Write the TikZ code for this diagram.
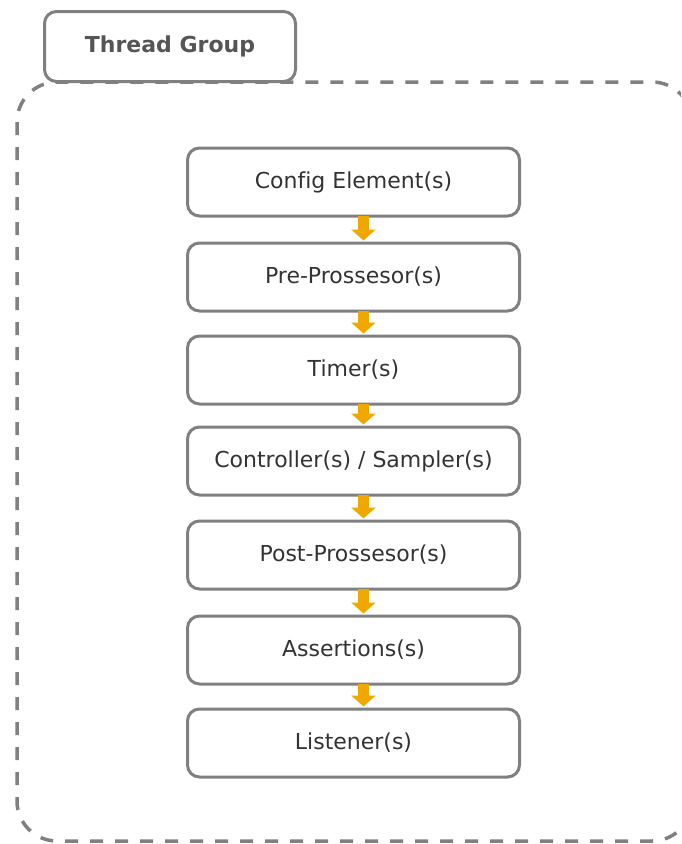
\documentclass[tikz,border=0pt]{standalone}
\usepackage{fontspec}
\setmainfont{DejaVu Sans}[Ligatures={NoCommon}]
\usetikzlibrary{arrows.meta}
\definecolor{edgegray}{HTML}{808080}
\definecolor{txtdark}{HTML}{333333}
\definecolor{txtgray}{HTML}{555555}
\definecolor{flowor}{HTML}{F0A800}
\begin{document}
\begin{tikzpicture}[x=1pt,y=-1pt,
  stagebox/.style={draw=edgegray, line width=3pt, rounded corners=12pt, fill=white,
    minimum width=332pt, minimum height=68pt, inner sep=0pt,
    font=\fontsize{22}{26}\selectfont, text=txtdark},
  groupbox/.style={draw=edgegray, line width=3pt, rounded corners=12pt, fill=white,
    minimum width=251pt, minimum height=70pt, inner sep=0pt,
    font=\fontsize{22}{26}\selectfont\bfseries, text=txtgray},
  flow/.style={draw=flowor, line width=11pt, -{Triangle[width=24pt,length=11pt]}}]
\useasboundingbox (0,0) rectangle (681,844);
\clip (0,0) rectangle (681,844);
\fill[white] (0,0) rectangle (681,844);
\node[groupbox] (tg) at (170,46.5) {Thread Group};
\draw[edgegray, line width=3.5pt, dash pattern=on 13pt off 12pt, rounded corners=40pt]
  (17,82) rectangle (692,841);
\node[stagebox] (cfg) at (353.5,182) {Config Element(s)};
\node[stagebox] (pre) at (353.5,277) {Pre-Prossesor(s)};
\node[stagebox] (tim) at (353.5,370) {Timer(s)};
\node[stagebox] (ctl) at (353.5,461) {Controller(s) / Sampler(s)};
\node[stagebox] (post) at (353.5,555) {Post-Prossesor(s)};
\node[stagebox] (asr) at (353.5,650) {Assertions(s)};
\node[stagebox] (lst) at (353.5,743) {Listener(s)};
\draw[flow] ([xshift=10pt,yshift=2pt]cfg.south) -- ([xshift=10pt,yshift=1pt]pre.north);
\draw[flow] ([xshift=10pt,yshift=2pt]pre.south) -- ([xshift=10pt,yshift=1pt]tim.north);
\draw[flow] ([xshift=10pt,yshift=2pt]tim.south) -- ([xshift=10pt,yshift=1pt]ctl.north);
\draw[flow] ([xshift=10pt,yshift=2pt]ctl.south) -- ([xshift=10pt,yshift=1pt]post.north);
\draw[flow] ([xshift=10pt,yshift=2pt]post.south) -- ([xshift=10pt,yshift=1pt]asr.north);
\draw[flow] ([xshift=10pt,yshift=2pt]asr.south) -- ([xshift=10pt,yshift=1pt]lst.north);
\end{tikzpicture}
\end{document}
